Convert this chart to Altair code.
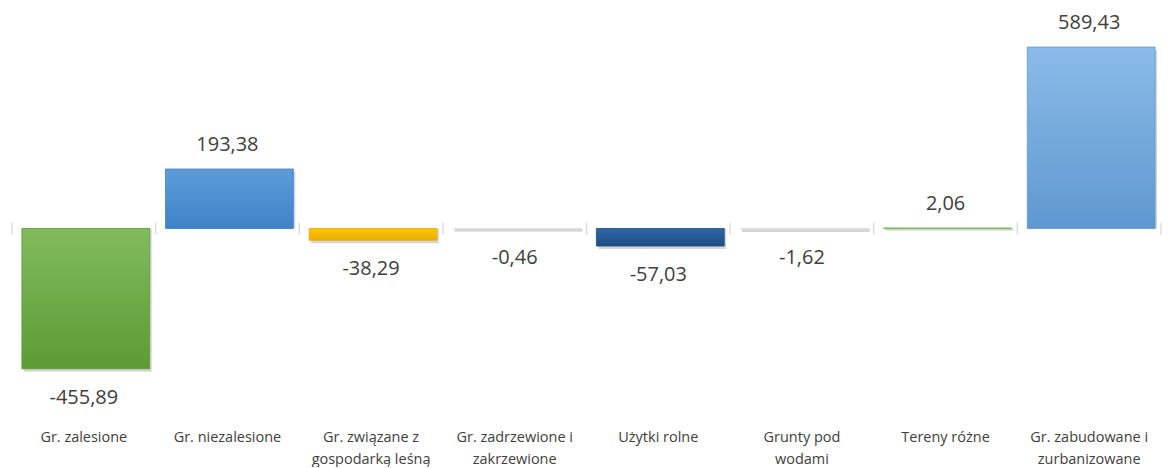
import altair as alt
import pandas as pd

categories = [
    "Gr. zalesione",
    "Gr. niezalesione",
    "Gr. związane z\ngospodarką leśną",
    "Gr. zadrzewione i\nzakrzewione",
    "Użytki rolne",
    "Grunty pod\nwodami",
    "Tereny różne",
    "Gr. zabudowane i\nzurbanizowane",
]
values = [-455.89, 193.38, -38.29, -0.46, -57.03, -1.62, 2.06, 589.43]

# colour stops (top, bottom) per bar
palette = [
    ("#82bb5e", "#5b9b34"),
    ("#5c9cd9", "#3f82c7"),
    ("#ffc400", "#e8ae00"),
    ("#ececec", "#e0e0e0"),
    ("#2f66a6", "#1e4d84"),
    ("#ececec", "#e0e0e0"),
    ("#8cc96a", "#74b44c"),
    ("#8bbbe8", "#5f98d0"),
]

df = pd.DataFrame({
    "idx": list(range(len(categories))),
    "cat": categories,
    "val": values,
    "lab": [f"{v:.2f}".replace(".", ",") for v in values],
})

TXT = "#404040"
FONT = "Open Sans"

xscale = alt.Scale(paddingInner=0, paddingOuter=0, round=False)
yscale = alt.Scale(domain=[-621, 715], nice=False, zero=False)

base = alt.Chart(df)

x_axis = alt.Axis(
    title=None, orient="bottom", domain=False, ticks=False, grid=False,
    labelAngle=0, labelFont=FONT, labelFontSize=14.5, labelColor=TXT,
    labelPadding=11, labelLineHeight=22, labelLimit=200,
    labelExpr="split(datum.label, '\\n')",
)

zero_line = base.mark_rule(color="#d9d9d9", strokeWidth=1.5).encode(
    x=alt.X("cat:N", sort=categories, scale=xscale, axis=x_axis),
    y=alt.datum(0, scale=yscale, axis=None),
)

ticks = base.mark_tick(orient="vertical", color="#d0d0d0", size=12, thickness=1.5).encode(
    x=alt.X("cat:N", sort=categories, bandPosition=0),
    y=alt.datum(0),
)
last_tick = base.transform_filter(alt.datum.idx == len(categories) - 1).mark_tick(
    orient="vertical", color="#d0d0d0", size=12, thickness=1.5
).encode(
    x=alt.X("cat:N", sort=categories, bandPosition=1),
    y=alt.datum(0),
)

shadow = base.mark_bar(
    width={"band": 0.89}, color="#000000", opacity=0.16, xOffset=4, yOffset=3
).encode(
    x=alt.X("cat:N", sort=categories),
    y=alt.Y("val:Q"),
    y2=alt.datum(0),
)

bars = []
for i, (c_top, c_bot) in enumerate(palette):
    grad = alt.LinearGradient(
        gradient="linear", x1=0, y1=0, x2=0, y2=1,
        stops=[alt.GradientStop(offset=0, color=c_top),
               alt.GradientStop(offset=1, color=c_bot)],
    )
    bars.append(
        base.transform_filter(alt.datum.idx == i).mark_bar(
            width={"band": 0.89}, color=grad, stroke=c_bot, strokeWidth=0.8, xOffset=2
        ).encode(
            x=alt.X("cat:N", sort=categories),
            y=alt.Y("val:Q"),
            y2=alt.datum(0),
        )
    )

pos_text = base.transform_filter(alt.datum.val >= 0).mark_text(
    font=FONT, fontSize=20, color=TXT, baseline="alphabetic", dy=-18
).encode(
    x=alt.X("cat:N", sort=categories),
    y=alt.Y("val:Q"),
    text="lab:N",
)
neg_text = base.transform_filter(alt.datum.val < 0).mark_text(
    font=FONT, fontSize=20, color=TXT, baseline="alphabetic", dy=35
).encode(
    x=alt.X("cat:N", sort=categories),
    y=alt.Y("val:Q"),
    text="lab:N",
)

chart = alt.layer(
    zero_line, shadow, *bars, ticks, last_tick, pos_text, neg_text
).properties(
    width=1151, height=412,
    padding={"left": 3, "top": 0, "right": 0, "bottom": 0},
    background="white",
).configure_view(stroke=None)

chart.save("out.html", embed_options={"renderer": "svg", "actions": False})
